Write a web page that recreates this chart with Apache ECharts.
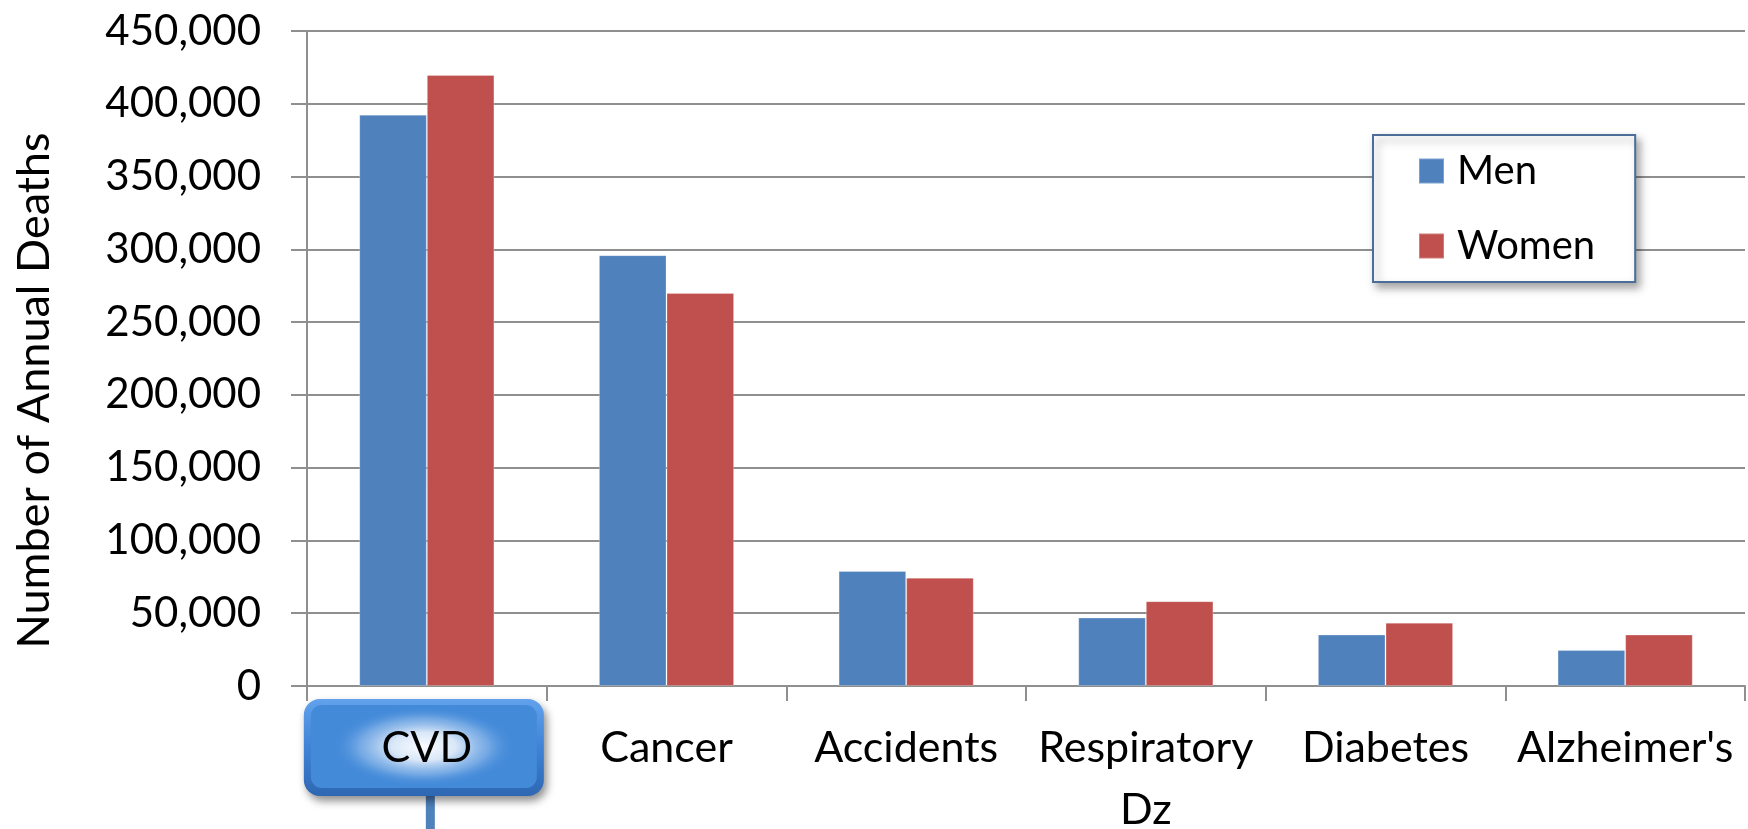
<!DOCTYPE html>
<html>
<head>
<meta charset="utf-8">
<title>Annual Deaths by Cause</title>
<script src="https://cdn.jsdelivr.net/npm/echarts@6/dist/echarts.min.js"></script>
<style>
  html, body { margin: 0; padding: 0; background: #ffffff; }
  #chart { width: 1748px; height: 829px; }
</style>
</head>
<body>
<div id="chart"></div>
<script>
// Leading causes of death, annual counts by sex
const categories = ['CVD', 'Cancer', 'Accidents', 'Respiratory\nDz', 'Diabetes', "Alzheimer's"];
const menDeaths = [392500, 296000, 79000, 47000, 35300, 24700];
const womenDeaths = [419800, 270000, 74400, 58300, 43500, 35300];
const seriesNames = ['Men', 'Women'];
const yTicks = [0, 50000, 100000, 150000, 200000, 250000, 300000, 350000, 400000, 450000];

const FONT = 'Lato, "Open Sans", sans-serif';
const GRID_GRAY = '#8f8f8f';

const chart = echarts.init(document.getElementById('chart'), null, { renderer: 'canvas' });

const option = {
  backgroundColor: '#ffffff',
  animation: false,
  color: ['#4f81bd', '#c0504d'],
  grid: {
    left: 307, right: 3, top: 31, bottom: 143,
    containLabel: false,
    outerBoundsMode: 'none'
  },
  legend: {
    data: seriesNames,
    orient: 'vertical',
    left: 1373,
    top: 135,
    padding: [16, 40, 16, 45],
    itemWidth: 25,
    itemHeight: 25,
    itemGap: 35,
    icon: 'rect',
    backgroundColor: '#ffffff',
    borderColor: '#4a6d99',
    borderWidth: 2,
    borderRadius: 0,
    shadowBlur: 8,
    shadowColor: 'rgba(0,0,0,0.35)',
    shadowOffsetX: 4,
    shadowOffsetY: 5,
    textStyle: {
      fontFamily: FONT,
      fontSize: 40,
      color: '#000000',
      lineHeight: 40,
      padding: [0, 0, 0, 8]
    }
  },
  xAxis: {
    type: 'category',
    data: categories,
    axisLine: { show: true, lineStyle: { color: GRID_GRAY, width: 2 } },
    axisTick: { show: true, length: 15, lineStyle: { color: GRID_GRAY, width: 2 } },
    axisLabel: {
      interval: 0,
      margin: 31,
      fontFamily: FONT,
      fontSize: 43,
      color: '#000000',
      lineHeight: 62
    }
  },
  yAxis: {
    type: 'value',
    min: 0,
    max: yTicks[yTicks.length - 1],
    interval: yTicks[1] - yTicks[0],
    name: 'Number of Annual Deaths',
    nameLocation: 'middle',
    nameRotate: 90,
    nameGap: 250,
    nameTextStyle: {
      fontFamily: FONT,
      fontSize: 45,
      color: '#000000',
      padding: [0, 64, 0, 0]
    },
    axisLine: { show: true, lineStyle: { color: GRID_GRAY, width: 2 } },
    axisTick: { show: true, length: 16, lineStyle: { color: GRID_GRAY, width: 2 } },
    splitLine: { show: true, lineStyle: { color: GRID_GRAY, width: 2 } },
    axisLabel: {
      margin: 46,
      fontFamily: FONT,
      fontSize: 42,
      color: '#000000',
      formatter: v => v.toLocaleString('en-US')
    }
  },
  series: [
    {
      name: seriesNames[0],
      type: 'bar',
      data: menDeaths,
      barGap: '0%',
      barCategoryGap: '43.6%',
      itemStyle: { borderColor: 'rgba(255,255,255,0.25)', borderWidth: 1 }
    },
    {
      name: seriesNames[1],
      type: 'bar',
      data: womenDeaths,
      barGap: '0%',
      barCategoryGap: '43.6%',
      itemStyle: { borderColor: 'rgba(255,255,255,0.25)', borderWidth: 1 }
    }
  ]
};

chart.setOption(option);

// Highlight button behind the first category label, with a connector line below
function drawHighlight() {
  const cx = chart.convertToPixel({ xAxisIndex: 0 }, categories[0]);
  const axisY = chart.convertToPixel({ yAxisIndex: 0 }, 0);
  const w = 240, h = 97;
  const top = axisY + 13;
  const left = cx - w / 2 - 3;
  const glowR = 40;
  const glowScaleX = 2.3;
  chart.setOption({
    graphic: [
      {
        type: 'rect',
        id: 'connector',
        z: -3,
        shape: { x: cx - 1, y: top + h - 4, width: 9, height: 60 },
        style: { fill: '#4f81bd' }
      },
      {
        type: 'rect',
        id: 'btnOuter',
        z: -3,
        shape: { x: left, y: top, width: w, height: h, r: 16 },
        style: {
          fill: new echarts.graphic.LinearGradient(0, 0, 0, 1, [
            { offset: 0, color: '#62a2ec' },
            { offset: 0.5, color: '#3f83d6' },
            { offset: 1, color: '#2e67b3' }
          ]),
          shadowBlur: 8,
          shadowOffsetX: 3,
          shadowOffsetY: 5,
          shadowColor: 'rgba(0,0,0,0.45)'
        }
      },
      {
        type: 'rect',
        id: 'btnInner',
        z: -2,
        shape: { x: left + 7, y: top + 6, width: w - 14, height: h - 14, r: 11 },
        style: { fill: '#438ad9' }
      },
      {
        type: 'group',
        id: 'btnGlow',
        z: -1,
        x: left + w / 2,
        y: top + h / 2 - 1,
        scaleX: glowScaleX,
        scaleY: 1,
        children: [
          {
            type: 'circle',
            z: -1,
            shape: { cx: 0, cy: 0, r: glowR },
            style: {
              fill: new echarts.graphic.RadialGradient(0.5, 0.5, 0.5, [
                { offset: 0, color: 'rgba(250,252,255,1)' },
                { offset: 0.35, color: 'rgba(225,236,249,0.95)' },
                { offset: 0.7, color: 'rgba(150,190,236,0.6)' },
                { offset: 1, color: 'rgba(67,138,217,0)' }
              ])
            }
          }
        ]
      }
    ]
  });
}
drawHighlight();
</script>
</body>
</html>
